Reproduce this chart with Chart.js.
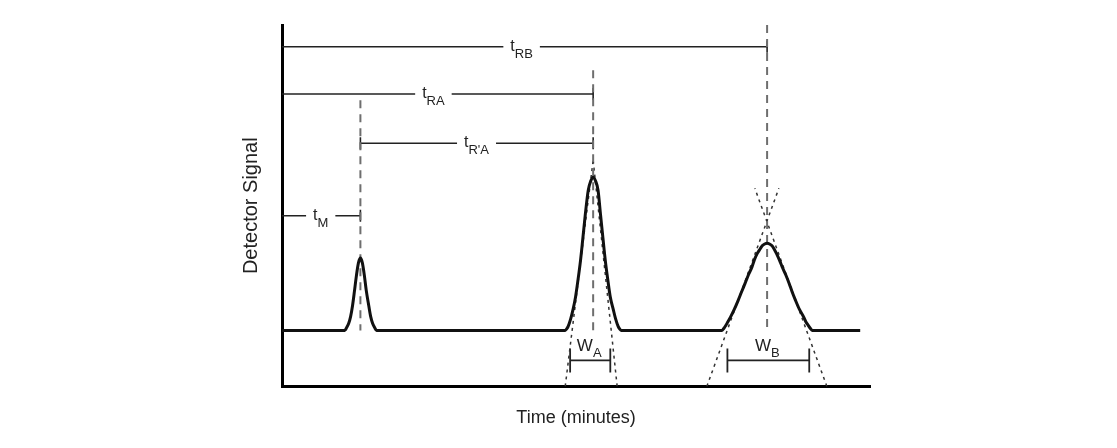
<!DOCTYPE html>
<html>
<head>
<meta charset="utf-8">
<script src="https://cdn.jsdelivr.net/npm/chart.js@4.4.1/dist/chart.umd.min.js"></script>
<style>
  html, body { margin: 0; padding: 0; background: #fff; }
  #wrap { width: 1117px; height: 448px; position: relative; }
</style>
</head>
<body>
<div id="wrap"><canvas id="chromChart"></canvas></div>
<script>
const tM = 1.60;
const tRA = 6.35;
const tRB = 9.90;
const baselineLevel = 15.5;

// Señal del detector
const signalTime = [0,
  1.28, 1.32, 1.36, 1.40, 1.44, 1.48, 1.52, 1.56, 1.60, 1.64, 1.68, 1.72, 1.77, 1.81, 1.85, 1.89, 1.93,
  5.78, 5.81, 5.84, 5.89, 5.94, 5.99, 6.04, 6.09, 6.14, 6.19, 6.25, 6.30, 6.35,
  6.40, 6.45, 6.50, 6.55, 6.60, 6.65, 6.70, 6.76, 6.81, 6.86, 6.89, 6.92,
  8.98, 9.02, 9.06, 9.10, 9.15, 9.23, 9.31, 9.38, 9.45, 9.52, 9.59, 9.64, 9.70, 9.76, 9.80, 9.85, 9.90,
  9.95, 10.00, 10.04, 10.09, 10.15, 10.21, 10.28, 10.35, 10.41, 10.48, 10.56, 10.65, 10.69, 10.74, 10.78, 10.82,
  11.80];
const signalLevel = [15.5,
  15.5, 16.3, 17.4, 19.3, 22.4, 26.5, 30.8, 34.2, 35.5, 34.2, 30.8, 26.5, 22.4, 19.3, 17.4, 16.3, 15.5,
  15.5, 15.9, 16.6, 18.6, 21.3, 24.7, 29.4, 34.6, 41.0, 47.6, 54.3, 56.8, 57.9,
  56.8, 54.3, 47.6, 41.0, 34.6, 29.4, 24.7, 21.3, 18.6, 16.6, 15.9, 15.5,
  15.5, 16.1, 16.9, 17.9, 19.1, 21.3, 23.8, 26.2, 28.5, 30.9, 33.0, 35.0, 36.8, 38.1, 38.9, 39.4, 39.6,
  39.4, 38.9, 38.1, 36.8, 35.0, 33.0, 30.9, 28.5, 26.2, 23.8, 21.3, 19.1, 17.9, 16.9, 16.1, 15.5,
  15.5];

// Líneas verticales discontinuas en cada pico
const markerTime = [tM, tRA, tRB];
const markerTop = [79.2, 87.5, 100];

// Cotas de tiempo (t_RB, t_RA, t_R'A, t_M)
const bracketNames = ['RB', 'RA', "R'A", 'M'];
const bracketStart = [0, 0, tM, 0];
const bracketEnd = [tRB, tRA, tRA, tM];
const bracketLevel = [94.0, 80.9, 67.3, 47.2];
const bracketLabelAt = [4.89, 3.09, 3.97, 0.79];

// Tangentes punteadas
const tangentFoot = [5.78, 6.84, 8.67, 11.12];
const tangentTipTime = [6.35, 6.35, 10.14, 9.65];
const tangentTipLevel = [62.6, 62.6, 54.8, 54.8];

// Anchos de pico W_A, W_B
const widthNames = ['A', 'B'];
const widthFrom = [5.88, 9.09];
const widthTo = [6.70, 10.76];
const widthLevel = 7.2;

const fontFamily = '"Liberation Sans", Arial, Helvetica, sans-serif';

const datasets = [];

datasets.push({
  data: signalTime.map((t, i) => ({ x: t, y: signalLevel[i] })),
  borderColor: '#111',
  borderWidth: 3,
  cubicInterpolationMode: 'monotone',
  pointRadius: 0
});

markerTime.forEach((t, i) => {
  datasets.push({
    data: [{ x: t, y: markerTop[i] }, { x: t, y: baselineLevel }],
    borderColor: '#6e6e6e',
    borderWidth: 2,
    borderDash: [8, 6],
    pointRadius: 0
  });
});

bracketNames.forEach((name, i) => {
  datasets.push({
    data: [{ x: bracketStart[i], y: bracketLevel[i] }, { x: bracketEnd[i], y: bracketLevel[i] }],
    borderColor: '#222',
    borderWidth: 1.6,
    pointStyle: 'line',
    pointRotation: 90,
    pointBorderColor: '#222',
    pointBorderWidth: 1.6,
    pointRadius: (c) => (c.dataIndex === 0 && bracketStart[i] === 0) ? 0 : 6
  });
});

tangentFoot.forEach((t, i) => {
  datasets.push({
    data: [{ x: t, y: 0 }, { x: tangentTipTime[i], y: tangentTipLevel[i] }],
    borderColor: '#333',
    borderWidth: 1.5,
    borderDash: [3, 4],
    pointRadius: 0
  });
});

widthNames.forEach((name, i) => {
  datasets.push({
    data: [{ x: widthFrom[i], y: widthLevel }, { x: widthTo[i], y: widthLevel }],
    borderColor: '#222',
    borderWidth: 1.8,
    pointStyle: 'line',
    pointRotation: 90,
    pointBorderColor: '#222',
    pointBorderWidth: 1.8,
    pointRadius: 12
  });
});

function drawSubLabel(ctx, main, sub, cx, cy, mainDy, subDy, clear, mainSize) {
  ctx.font = mainSize + 'px ' + fontFamily;
  const wm = ctx.measureText(main).width;
  ctx.font = '13px ' + fontFamily;
  const ws = ctx.measureText(sub).width;
  const left = cx - (wm + ws) / 2;
  if (clear) {
    ctx.fillStyle = '#fff';
    ctx.fillRect(left - 7, cy - 4, wm + ws + 14, 8);
  }
  ctx.fillStyle = '#222';
  ctx.textAlign = 'left';
  ctx.textBaseline = 'alphabetic';
  ctx.font = mainSize + 'px ' + fontFamily;
  ctx.fillText(main, left, cy + mainDy);
  ctx.font = '13px ' + fontFamily;
  ctx.fillText(sub, left + wm, cy + subDy);
}

// Etiquetas con subíndice
const labelPlugin = {
  id: 'peakLabels',
  afterDatasetsDraw(chart) {
    const { ctx, scales: { x, y } } = chart;
    ctx.save();
    bracketNames.forEach((name, i) => {
      drawSubLabel(ctx, 't', name, x.getPixelForValue(bracketLabelAt[i]), y.getPixelForValue(bracketLevel[i]), 4, 11, true, 16);
    });
    widthNames.forEach((name, i) => {
      const cx = x.getPixelForValue((widthFrom[i] + widthTo[i]) / 2) - 1;
      drawSubLabel(ctx, 'W', name, cx, y.getPixelForValue(widthLevel), -9, -3, false, 17);
    });
    ctx.restore();
  }
};

const config = {
  type: 'line',
  data: { datasets: datasets },
  options: {
    responsive: true,
    maintainAspectRatio: false,
    animation: false,
    layout: { padding: { left: 239, right: 247, top: 25, bottom: 15 } },
    plugins: { legend: { display: false }, tooltip: { enabled: false } },
    scales: {
      x: {
        type: 'linear',
        min: 0,
        max: 12,
        grid: { display: false, drawTicks: false },
        ticks: { display: false },
        border: { display: true, color: '#000', width: 3 },
        title: {
          display: true,
          text: 'Time (minutes)',
          color: '#222',
          font: { family: fontFamily, size: 18 },
          padding: { top: 21, bottom: 4 }
        }
      },
      y: {
        min: 0,
        max: 100,
        grid: { display: false, drawTicks: false },
        ticks: { display: false },
        border: { display: true, color: '#000', width: 3 },
        title: {
          display: true,
          text: 'Detector Signal',
          color: '#222',
          font: { family: fontFamily, size: 20 },
          padding: { top: 0, bottom: 19 }
        }
      }
    }
  },
  plugins: [labelPlugin]
};

const ctx = document.getElementById('chromChart').getContext('2d');
new Chart(ctx, config);
</script>
</body>
</html>
